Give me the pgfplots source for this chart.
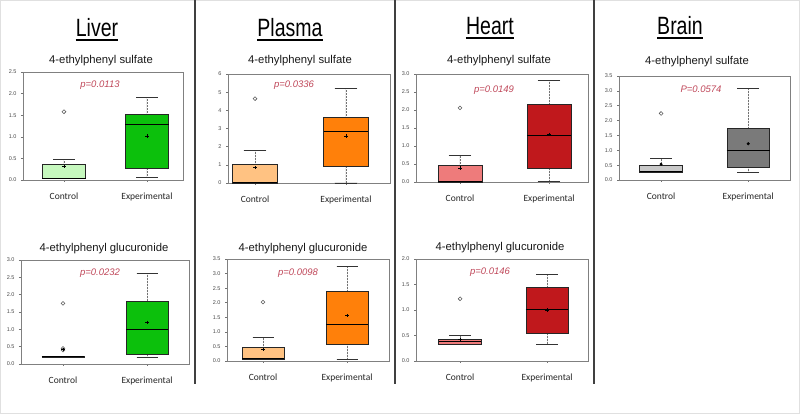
\documentclass[border=0pt]{standalone}
\usepackage{pgfplots}
\pgfplotsset{compat=1.18}
\usepgfplotslibrary{statistics}
\usepackage{fontspec}
\setmainfont{Liberation Sans}
\newfontfamily\titlefont[FakeStretch=0.78]{Liberation Sans}
\newfontfamily\catfont{Carlito}
\definecolor{liverC}{HTML}{C6F8BE}
\definecolor{liverE}{HTML}{0CC00C}
\definecolor{plasmaC}{HTML}{FFC282}
\definecolor{plasmaE}{HTML}{FF800A}
\definecolor{heartC}{HTML}{EE7B7B}
\definecolor{heartE}{HTML}{C0181C}
\definecolor{brainC}{HTML}{C8C8C8}
\definecolor{brainE}{HTML}{7A7A7A}
\definecolor{pcol}{HTML}{C0485A}
\pgfplotsset{
  boxplot/draw/lower whisker/.code={%
    \draw[densely dotted, black!55, line width=0.5pt]
      (boxplot cs:\pgfplotsboxplotvalue{lower quartile}) --
      (boxplot cs:\pgfplotsboxplotvalue{lower whisker});
    \draw[black!80, line width=0.7pt]
      (boxplot whisker cs:\pgfplotsboxplotvalue{lower whisker},0) --
      (boxplot whisker cs:\pgfplotsboxplotvalue{lower whisker},1);
  },
  boxplot/draw/upper whisker/.code={%
    \draw[densely dotted, black!55, line width=0.5pt]
      (boxplot cs:\pgfplotsboxplotvalue{upper quartile}) --
      (boxplot cs:\pgfplotsboxplotvalue{upper whisker});
    \draw[black!80, line width=0.7pt]
      (boxplot whisker cs:\pgfplotsboxplotvalue{upper whisker},0) --
      (boxplot whisker cs:\pgfplotsboxplotvalue{upper whisker},1);
  },
  boxplot/every median/.style={black, line width=1pt},
  panel/.style={
    scale only axis, anchor=south west, clip=false,
    ymin=0,
    axis line style={black!50, line width=0.6pt},
    xtick={1,2}, xticklabels={Control,Experimental},
    xticklabel style={font=\catfont\fontsize{9.5}{9.5}\selectfont, black!85, yshift=-7.5pt},
    yticklabel style={font=\fontsize{5.5}{5.5}\selectfont, black!70, xshift=-1pt},
    tick style={black!55, line width=0.5pt},
    tick align=outside, major tick length=2pt,
    xtick pos=bottom, ytick pos=left,
    /pgf/number format/assume math mode=true,
    /pgf/number format/fixed, /pgf/number format/fixed zerofill,
    /pgf/number format/precision=1,
    boxplot/draw direction=y,
  },
}
\newcommand{\bp}[8]{%
  \addplot[boxplot prepared={draw position=#1, lower whisker=#2, lower quartile=#3,
      median=#4, upper quartile=#5, upper whisker=#6},
    fill=#7, draw=black!85, line width=0.5pt,
    mark=o, mark size=1.9pt, mark options={black!65, fill=none, line width=0.55pt}]
    coordinates {#8};}
\newcommand{\mn}[1]{\addplot[only marks, mark=+, mark size=1.7pt, black, line width=0.6pt] coordinates {#1};}
\newcommand{\mnd}[1]{\addplot[only marks, mark=*, mark size=1.3pt, black] coordinates {#1};}
\newcommand{\ttl}[4]{% x, baseline y, name, id
  \node[font=\titlefont\fontsize{25}{25}\selectfont, anchor=base, inner sep=0pt] (#4) at (#1pt,#2pt) {#3};
  \draw[line width=1.5pt] ([yshift=-3pt]#4.base west) -- ([yshift=-3pt]#4.base east);}
\newcommand{\sub}[3]{\node[font=\fontsize{11.3}{11.3}\selectfont, anchor=base, inner sep=0pt, black!90] at (#1pt,#2pt) {#3};}
\newcommand{\pv}[3]{\node[font=\itshape\fontsize{9.5}{9.5}\selectfont, pcol, inner sep=0pt] at (#1pt,#2pt) {#3};}
\begin{document}
\begin{tikzpicture}
\useasboundingbox (0pt,0pt) rectangle (800pt,414pt);
\fill[white] (0pt,0pt) rectangle (800pt,414pt);
\draw[black!12, line width=0.8pt] (0.5pt,0.5pt) rectangle (799.5pt,413.5pt);
% separators
\draw[black!75, line width=1.3pt] (195pt,414pt) -- (195pt,30pt);
\draw[black!75, line width=1.3pt] (395pt,414pt) -- (395pt,30pt);
\draw[black!75, line width=1.3pt] (594pt,414pt) -- (594pt,30pt);
% titles
\ttl{97}{377}{Liver}{tA}
\ttl{290}{377}{Plasma}{tB}
\ttl{490}{379}{Heart}{tC}
\ttl{680}{379}{Brain}{tD}
\sub{101}{350}{4-ethylphenyl sulfate}
\sub{300}{350}{4-ethylphenyl sulfate}
\sub{499}{350}{4-ethylphenyl sulfate}
\sub{697}{349}{4-ethylphenyl sulfate}
\sub{104}{162}{4-ethylphenyl glucuronide}
\sub{303}{162}{4-ethylphenyl glucuronide}
\sub{500}{163}{4-ethylphenyl glucuronide}

% Liver sulfate
\begin{axis}[panel, at={(23pt,234pt)}, width=160pt, height=108pt,
  xmin=0.506, xmax=2.434, ymax=2.5, ytick={0,0.5,...,2.5},
  boxplot/box extend=0.52, boxplot/whisker extend=0.26]
\bp{1}{0.03}{0.03}{0.04}{0.37}{0.48}{liverC}{(0,1.58)}
\bp{2}{0.05}{0.28}{1.28}{1.52}{1.91}{liverE}{}
\mn{(1,0.31) (2,1.02)}
\end{axis}
% Plasma sulfate
\begin{axis}[panel, at={(228pt,231pt)}, width=162pt, height=109pt,
  xmin=0.703, xmax=2.484, ymax=6, ytick={0,1,...,6},
  /pgf/number format/precision=0,
  boxplot/box extend=0.49, boxplot/whisker extend=0.25]
\bp{1}{0}{0}{0.02}{1.03}{1.77}{plasmaC}{(0,4.64)}
\bp{2}{0}{0.94}{2.85}{3.61}{5.21}{plasmaE}{}
\mn{(1,0.85) (2,2.58)}
\end{axis}
% Heart sulfate
\begin{axis}[panel, at={(416pt,232pt)}, width=172pt, height=108pt,
  xmin=0.506, xmax=2.438, ymax=3, ytick={0,0.5,...,3},
  boxplot/box extend=0.49, boxplot/whisker extend=0.25]
\bp{1}{0}{0}{0.01}{0.47}{0.74}{heartC}{(0,2.06)}
\bp{2}{0.02}{0.39}{1.30}{2.15}{2.83}{heartE}{}
\mn{(1,0.39) (2,1.32)}
\end{axis}
% Brain sulfate
\begin{axis}[panel, at={(619pt,234pt)}, width=171pt, height=104pt,
  xmin=0.517, xmax=2.48, ymax=3.5, ytick={0,0.5,...,3.5},
  boxplot/box extend=0.49, boxplot/whisker extend=0.25]
\bp{1}{0.25}{0.25}{0.30}{0.49}{0.74}{brainC}{(0,2.24)}
\bp{2}{0.25}{0.43}{0.99}{1.73}{3.07}{brainE}{}
\mnd{(1,0.53) (2,1.22)}
\end{axis}
% Liver glucuronide
\begin{axis}[panel, at={(21pt,50pt)}, width=168pt, height=104pt,
  xmin=0.5, xmax=2.5, ymax=3, ytick={0,0.5,...,3},
  boxplot/box extend=0.5, boxplot/whisker extend=0.25]
\bp{1}{0.19}{0.19}{0.21}{0.22}{0.22}{liverC}{(0,0.40) (0,0.45) (0,1.75)}
\bp{2}{0.19}{0.29}{1.00}{1.82}{2.62}{liverE}{}
\mn{(1,0.42) (2,1.20)}
\end{axis}
% Plasma glucuronide
\begin{axis}[panel, at={(227pt,53pt)}, width=162pt, height=102pt,
  xmin=0.571, xmax=2.5, ymax=3.5, ytick={0,0.5,...,3.5},
  boxplot/box extend=0.5, boxplot/whisker extend=0.25]
\bp{1}{0.06}{0.06}{0.07}{0.48}{0.80}{plasmaC}{(0,2.02)}
\bp{2}{0.06}{0.57}{1.24}{2.38}{3.25}{plasmaE}{}
\mn{(1,0.40) (2,1.56)}
\end{axis}
% Heart glucuronide
\begin{axis}[panel, at={(416pt,53pt)}, width=172pt, height=102pt,
  xmin=0.494, xmax=2.47, ymax=2, ytick={0,0.5,...,2},
  boxplot/box extend=0.49, boxplot/whisker extend=0.25]
\bp{1}{0.33}{0.33}{0.385}{0.43}{0.50}{heartC}{(0,1.22)}
\bp{2}{0.33}{0.55}{1.00}{1.44}{1.70}{heartE}{}
\mn{(1,0.42) (2,1.00)}
\end{axis}
% p-values
\pv{100}{329}{p=0.0113}
\pv{294}{329}{p=0.0336}
\pv{494}{324}{p=0.0149}
\pv{701}{325}{P=0.0574}
\pv{100}{141}{p=0.0232}
\pv{298}{141}{p=0.0098}
\pv{490}{142}{p=0.0146}
\end{tikzpicture}
\end{document}
